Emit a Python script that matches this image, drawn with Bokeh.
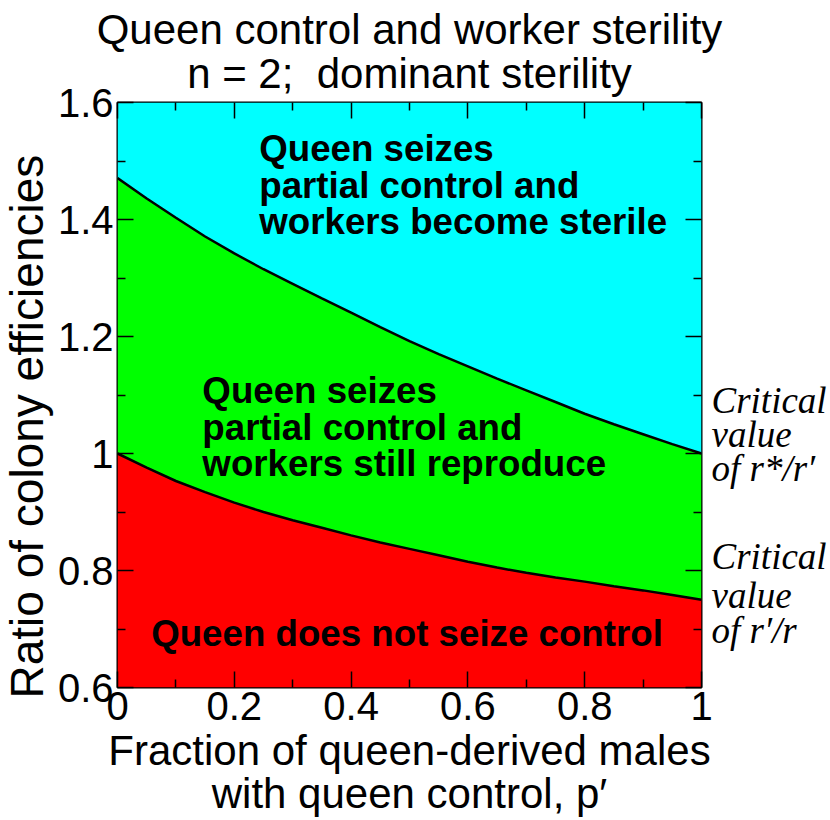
import numpy as np
from bokeh.plotting import figure
from bokeh.models import Label, LinearAxis, FixedTicker, Range1d, Title
from bokeh.embed import file_html
from bokeh.resources import INLINE

# ---- data ----
p_frac = [0.00, 0.05, 0.10, 0.15, 0.20, 0.25, 0.30, 0.35, 0.40, 0.45, 0.50,
          0.55, 0.60, 0.65, 0.70, 0.75, 0.80, 0.85, 0.90, 0.95, 1.00]
upper_crit = [1.471, 1.436, 1.403, 1.371, 1.342, 1.315, 1.290, 1.265, 1.241, 1.216, 1.192,
              1.170, 1.149, 1.128, 1.108, 1.088, 1.068, 1.050, 1.033, 1.016, 1.000]
lower_crit = [1.000, 0.976, 0.953, 0.934, 0.916, 0.900, 0.886, 0.873, 0.860, 0.848, 0.837,
              0.826, 0.815, 0.805, 0.796, 0.788, 0.781, 0.773, 0.766, 0.758, 0.750]

x_ticks = [0.0, 0.2, 0.4, 0.6, 0.8, 1.0]
x_tick_labels = ["0", "0.2", "0.4", "0.6", "0.8", "1"]
x_minor = [0.1, 0.3, 0.5, 0.7, 0.9]
y_ticks = [0.6, 0.8, 1.0, 1.2, 1.4, 1.6]
y_tick_labels = ["0.6", "0.8", "1", "1.2", "1.4", "1.6"]
y_minor = [0.7, 0.9, 1.1, 1.3, 1.5]

X_MIN, X_MAX = 0.0, 1.0
Y_MIN, Y_MAX = 0.6, 1.6

title_text = "Queen control and worker sterility\nn = 2;\u00a0 dominant sterility"
x_label = "Fraction of queen-derived males\nwith queen control, p\u2032"
y_label = "Ratio of colony efficiencies"
region_top = ["Queen seizes", "partial control and", "workers become sterile"]
region_mid = ["Queen seizes", "partial control and", "workers still reproduce"]
region_low = "Queen does not seize control"
crit_text = ["Critical", "value", "of r*/r\u2032", "Critical", "value", "of r\u2032/r"]
crit_pos = [1.090, 1.032, 0.974, 0.824, 0.758, 0.697]

SANS = "Liberation Sans"
SERIF = "Liberation Serif"

p = figure(width=830, height=820, x_range=Range1d(X_MIN, X_MAX), y_range=Range1d(Y_MIN, Y_MAX),
           output_backend="svg", toolbar_location=None,
           min_border_left=116, min_border_right=129, min_border_top=102, min_border_bottom=131)
p.title = None
p.xgrid.visible = False
p.ygrid.visible = False
p.outline_line_color = "black"
p.outline_line_width = 2
p.background_fill_color = "white"
p.border_fill_color = "white"

n = len(p_frac)
p.varea(x=p_frac, y1=[Y_MIN] * n, y2=lower_crit, fill_color="#ff0000")
p.varea(x=p_frac, y1=lower_crit, y2=upper_crit, fill_color="#00ff00")
p.varea(x=p_frac, y1=upper_crit, y2=[Y_MAX] * n, fill_color="#00ffff")
p.line(p_frac, upper_crit, line_color="black", line_width=2.5)
p.line(p_frac, lower_crit, line_color="black", line_width=2.5)


def style_axis(ax, ticks, minor, labels, show_labels=True):
    ax.ticker = FixedTicker(ticks=ticks, minor_ticks=minor)
    ax.major_label_overrides = {t: l for t, l in zip(ticks, labels)}
    ax.axis_line_color = None
    ax.major_tick_in = 16
    ax.major_tick_out = 0
    ax.minor_tick_in = 8
    ax.minor_tick_out = 0
    ax.major_tick_line_color = "black"
    ax.minor_tick_line_color = "black"
    ax.major_tick_line_width = 1.5
    ax.minor_tick_line_width = 1.5
    ax.major_label_text_font = SANS
    ax.major_label_text_font_size = "40px"
    ax.major_label_text_color = "black"
    ax.major_label_standoff = 6
    ax.axis_label_text_font = SANS
    ax.axis_label_text_font_size = "42px"
    ax.axis_label_text_font_style = "normal"
    ax.axis_label_text_color = "black"
    ax.axis_label_text_line_height = 0.93
    if not show_labels:
        ax.major_label_text_font_size = "0px"
        ax.major_label_text_color = None
        ax.major_label_standoff = 0


style_axis(p.xaxis[0], x_ticks, x_minor, x_tick_labels)
style_axis(p.yaxis[0], y_ticks, y_minor, y_tick_labels)
p.yaxis[0].major_label_standoff = 4
p.xaxis[0].major_label_standoff = 4
p.xaxis[0].axis_label = x_label
p.xaxis[0].axis_label_standoff = 4

ra = LinearAxis()
style_axis(ra, y_ticks, y_minor, y_tick_labels, show_labels=False)
p.add_layout(ra, "right")

# top axis carries the two-line title as its label
ta = LinearAxis()
style_axis(ta, x_ticks, x_minor, x_tick_labels, show_labels=False)
ta.axis_label = title_text
ta.axis_label_standoff = 6
p.add_layout(ta, "above")

# right-hand critical value notes
ca = LinearAxis()
ca.ticker = FixedTicker(ticks=crit_pos, minor_ticks=[])
ca.major_label_overrides = {t: l for t, l in zip(crit_pos, crit_text)}
ca.axis_line_color = None
ca.major_tick_in = 0
ca.major_tick_out = 0
ca.major_tick_line_color = None
ca.minor_tick_line_color = None
ca.major_label_text_font = SERIF
ca.major_label_text_font_style = "italic"
ca.major_label_text_font_size = "37px"
ca.major_label_text_color = "black"
ca.major_label_standoff = 10
p.add_layout(ca, "right")

# y axis title
p.add_layout(Title(text=y_label, align="left", offset=-11, vertical_align="top",
                   text_font=SANS, text_font_size="46px", text_font_style="normal",
                   text_color="black", text_line_height=0.8, standoff=0), "left")


def px_x(px):
    return X_MIN + (px - 116) / 585.0


def px_y(py):
    return Y_MAX - (py - 101.6) / 587.0


def lab(text, x, y, size="36.7px", align="left"):
    p.add_layout(Label(x=x, y=y, text=text, text_font=SANS, text_font_size=size,
                       text_font_style="bold", text_align=align, text_baseline="alphabetic",
                       text_color="black"))


for i, t in enumerate(region_top):
    lab(t, px_x(258), px_y(148 + 36.6 * i))
for i, t in enumerate(region_mid):
    lab(t, px_x(201), px_y(391 + 36.5 * i))
lab(region_low, px_x(406), px_y(634), align="center")

open("out.html", "w").write(file_html(p, INLINE))
